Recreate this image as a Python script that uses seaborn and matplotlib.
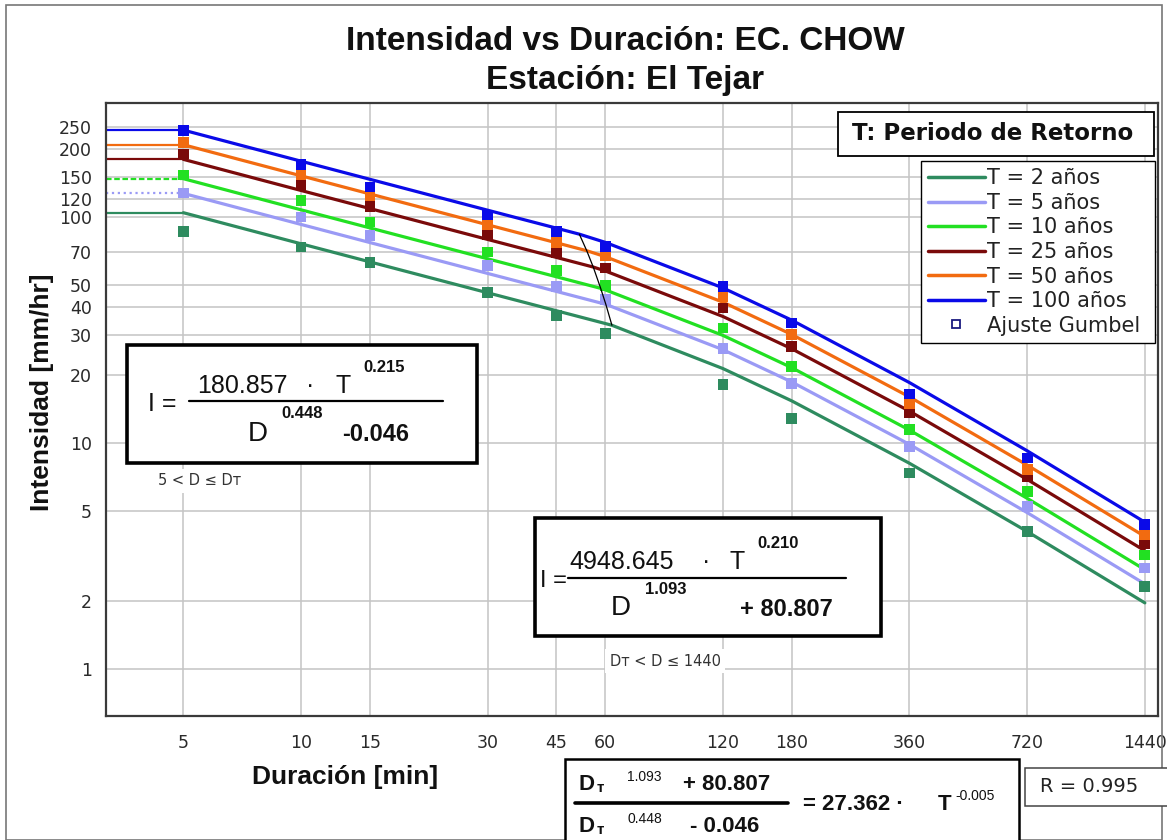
import numpy as np
import pandas as pd
import matplotlib
matplotlib.use("Agg")
import matplotlib.pyplot as plt
from matplotlib.patches import Rectangle
from matplotlib.lines import Line2D
from matplotlib.ticker import NullLocator, FixedLocator, FixedFormatter
import seaborn as sns

# ---------------- data ----------------
series_labels = ["T = 2 años", "T = 5 años", "T = 10 años",
                 "T = 25 años", "T = 50 años", "T = 100 años"]
series_colors = ["#2e8b5f", "#9a9af5", "#22e022", "#7a0a0a", "#f26b10", "#0a0ae8"]

durations = [5, 10, 15, 30, 45, 60, 120, 180, 360, 720, 1440]

# fitted curves (Chow) read at each duration
fit_T2 = [104.4, 76.07, 63.27, 46.20, 38.47, 33.78, 21.35, 15.36, 8.14, 4.064, 1.965]
fit_T5 = [127.1, 92.64, 77.04, 56.26, 46.84, 41.13, 25.88, 18.62, 9.867, 4.926, 2.382]
fit_T10 = [147.6, 107.5, 89.42, 65.30, 54.37, 47.60, 29.93, 21.54, 11.41, 5.698, 2.755]
fit_T25 = [179.7, 130.9, 108.9, 79.53, 66.21, 57.69, 36.28, 26.11, 13.84, 6.907, 3.340]
fit_T50 = [208.6, 152.0, 126.4, 92.31, 76.86, 66.74, 41.97, 30.20, 16.00, 7.990, 3.863]
fit_T100 = [242.1, 176.4, 146.7, 107.1, 89.20, 77.19, 48.54, 34.94, 18.51, 9.242, 4.469]

# break point D_T of each curve (where the two equations meet)
break_durations = [62.4, 60.2, 58.4, 55.9, 53.8, 51.5]
break_intensities = [33.18, 41.07, 48.33, 60.03, 70.89, 83.9]

# Gumbel adjusted points
gumbel_T2 = [86.4, 73.7, 63.0, 46.4, 36.6, 30.4, 18.1, 12.8, 7.37, 4.06, 2.32]
gumbel_T5 = [127.7, 100.0, 82.9, 61.1, 49.3, 43.1, 26.1, 18.4, 9.66, 5.24, 2.80]
gumbel_T10 = [153.4, 118.4, 95.0, 70.0, 57.9, 49.7, 32.3, 21.8, 11.45, 6.11, 3.20]
gumbel_T25 = [190.0, 139.0, 111.4, 83.5, 69.3, 59.5, 39.6, 26.8, 13.6, 7.11, 3.58]
gumbel_T50 = [213.8, 153.9, 124.2, 92.5, 77.2, 67.6, 44.3, 30.2, 14.9, 7.67, 3.93]
gumbel_T100 = [241.6, 170.3, 135.7, 102.0, 86.4, 74.1, 49.3, 34.0, 16.5, 8.58, 4.35]

y_ticks = [1, 2, 5, 10, 20, 30, 40, 50, 70, 100, 120, 150, 200, 250]
x_limits = (3.17, 1556)
y_limits = (0.621, 319)

fits = [fit_T2, fit_T5, fit_T10, fit_T25, fit_T50, fit_T100]
gumbels = [gumbel_T2, gumbel_T5, gumbel_T10, gumbel_T25, gumbel_T50, gumbel_T100]

rows = []
for lab, fit, dT, iT in zip(series_labels, fits, break_durations, break_intensities):
    for d, v in zip(durations, fit):
        rows.append({"D": d, "I": v, "Serie": lab})
    rows.append({"D": dT, "I": iT, "Serie": lab})
df_lines = pd.DataFrame(rows)

mrows = []
for lab, g in zip(series_labels, gumbels):
    for d, v in zip(durations, g):
        mrows.append({"D": d, "I": v, "Serie": lab})
df_pts = pd.DataFrame(mrows)

palette = dict(zip(series_labels, series_colors))

# ---------------- figure ----------------
sns.set_theme(style="white")
plt.rcParams["font.family"] = ["Liberation Sans", "DejaVu Sans"]
SANS2 = ["DejaVu Sans"]

W, H = 1167, 840
fig = plt.figure(figsize=(W / 100, H / 100), dpi=100)
fig.patch.set_facecolor("white")


def fx(x):
    return x / W


def fy(y):
    return 1 - y / H


ax = fig.add_axes([fx(106), fy(716), (1158 - 106) / W, (716 - 103) / H])
ax.set_xscale("log")
ax.set_yscale("log")

sns.lineplot(data=df_lines, x="D", y="I", hue="Serie", hue_order=series_labels,
             palette=palette, sort=True, estimator=None, lw=2.3, legend=False,
             ax=ax, zorder=3)
sns.scatterplot(data=df_pts, x="D", y="I", hue="Serie", hue_order=series_labels,
                palette=palette, marker="s", s=60, linewidth=0, legend=False,
                ax=ax, zorder=4)

# horizontal extensions from the axis to D = 5
styles = ["-", ":", (0, (2.5, 1.2)), "-", "-", "-"]
for fit, c, ls in zip(fits, series_colors, styles):
    ax.hlines(fit[0], x_limits[0], durations[0], colors=c, lw=1.6, linestyles=ls, zorder=2)

# D_T locus
ax.plot(break_durations, break_intensities, color="black", lw=0.9, zorder=5)

ax.set_xlim(*x_limits)
ax.set_ylim(*y_limits)
ax.xaxis.set_major_locator(FixedLocator(durations))
ax.xaxis.set_major_formatter(FixedFormatter([str(d) for d in durations]))
ax.xaxis.set_minor_locator(NullLocator())
ax.yaxis.set_major_locator(FixedLocator(y_ticks))
ax.yaxis.set_major_formatter(FixedFormatter([str(v) for v in y_ticks]))
ax.yaxis.set_minor_locator(NullLocator())
ax.grid(True, which="major", color="#c4c4c4", lw=1.1)
ax.set_axisbelow(True)
ax.tick_params(axis="x", length=0, pad=13, labelsize=12.5, labelcolor="#2a2a2a",
               labelfontfamily="DejaVu Sans")
ax.tick_params(axis="y", length=5, width=1, color="#c4c4c4", pad=5, labelsize=12.5,
               labelcolor="#2a2a2a", labelfontfamily="DejaVu Sans")
for sp in ax.spines.values():
    sp.set_color("#3a3a3a")
    sp.set_linewidth(1.6)
ax.set_xlabel("")
ax.set_ylabel("")

# titles and axis labels
fig.text(fx(625), fy(42), "Intensidad vs Duración: EC. CHOW", ha="center", va="center",
         fontsize=24, fontweight="bold", color="#111")
fig.text(fx(625), fy(80), "Estación: El Tejar", ha="center", va="center",
         fontsize=24, fontweight="bold", color="#111")
fig.text(fx(42), fy(392), "Intensidad [mm/hr]", rotation=90, ha="center", va="center",
         fontsize=19, fontweight="bold", color="#111")
fig.text(fx(345), fy(777), "Duración [min]", ha="center", va="center",
         fontsize=19, fontweight="bold", color="#111")

# figure border
fig.add_artist(Rectangle((fx(6), 0), (1162 - 6) / W, (840 - 5) / H,
                         transform=fig.transFigure, fill=False, ec="#777", lw=1.2))


def box(x0, y0, x1, y1, lw=2.5, ec="black", z=6):
    fig.add_artist(Rectangle((fx(x0), fy(y1)), (x1 - x0) / W, (y1 - y0) / H,
                             transform=fig.transFigure, fc="white", ec=ec, lw=lw, zorder=z))


def txt(x, y, s, size, bold=False, ha="left", color="#111", **kw):
    fig.text(fx(x), fy(y), s, ha=ha, va="center", fontsize=size,
             fontweight="bold" if bold else "normal", color=color, zorder=8, **kw)


def hbar(x0, x1, y, lw=1.6):
    fig.add_artist(Line2D([fx(x0), fx(x1)], [fy(y), fy(y)], color="black", lw=lw,
                          transform=fig.transFigure, zorder=8))


# legend title box
box(838, 112, 1154, 156, lw=1.3)
txt(993, 134, "T: Periodo de Retorno", 16.5, bold=True, ha="center", family=SANS2)

# legend
handles = [Line2D([], [], color=c, lw=2.5) for c in series_colors]
handles.append(Line2D([], [], marker="s", ls="none", mfc="white", mec="#1a1a80",
                      ms=6, mew=1.3))
leg = fig.legend(handles, series_labels + ["Ajuste Gumbel"], loc="upper left",
                 bbox_to_anchor=(fx(921), fy(370), (1155 - 921) / W, (370 - 161) / H),
                 mode="expand", frameon=True, fancybox=False,
                 edgecolor="black", framealpha=1, prop={"family": "DejaVu Sans", "size": 15},
                 handlelength=2.7, handletextpad=0.1, labelspacing=0.22, borderpad=0.35,
                 borderaxespad=0)
leg.get_frame().set_linewidth(1.0)
for t in leg.get_texts():
    t.set_color("#222")

# formula box 1
box(127, 345, 477, 463, lw=2.6)
txt(148, 404, "I =", 18)
txt(197, 386, "180.857", 18)
txt(306, 386, "·", 18)
txt(336, 386, "T", 18)
txt(363, 367, "0.215", 12, bold=True)
hbar(189, 443, 401)
txt(248, 434, "D", 20)
txt(281, 414, "0.448", 12, bold=True)
txt(342, 434, "-0.046", 17, bold=True)
txt(200, 481, "5 < D ≤ Dᴛ", 10.5, ha="center", color="#333", family=SANS2,
    bbox=dict(fc="white", ec="none", pad=3))

# formula box 2
box(535, 518, 881, 636, lw=2.6)
txt(540, 581, "I =", 17)
txt(569, 562, "4948.645", 18)
txt(702, 562, "·", 18)
txt(729, 562, "T", 18)
txt(757, 543, "0.210", 12, bold=True)
hbar(568, 846, 578)
txt(611, 608, "D", 20)
txt(645, 590, "1.093", 12, bold=True)
txt(740, 610, "+ 80.807", 17, bold=True)
txt(665, 661, "Dᴛ < D ≤ 1440", 10.5, ha="center", color="#333", family=SANS2,
    bbox=dict(fc="white", ec="none", pad=3))

# bottom equation box
box(565, 759, 1019, 850, lw=1.8, z=6)
txt(578, 784, "D", 16, bold=True)
txt(597, 788, "ᴛ", 11, bold=True)
txt(627, 777, "1.093", 10)
txt(683, 784, "+ 80.807", 16, bold=True)
hbar(575, 788, 803, lw=2.6)
txt(578, 826, "D", 16, bold=True)
txt(597, 830, "ᴛ", 11, bold=True)
txt(627, 819, "0.448", 10)
txt(690, 826, "- 0.046", 16, bold=True)
txt(803, 804, "= 27.362 ·", 16, bold=True)
txt(938, 804, "T", 16, bold=True)
txt(955, 796, "-0.005", 10)

# R box
box(1025, 768, 1175, 806, lw=1.1, ec="#444")
txt(1040, 787, "R = 0.995", 14, color="#222", family=SANS2)

fig.savefig("out.png", dpi=100, facecolor="white")
